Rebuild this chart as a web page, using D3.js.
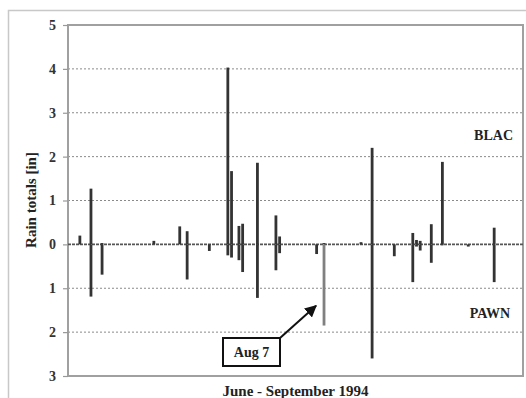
<!DOCTYPE html>
<html>
<head>
<meta charset="utf-8">
<script src="https://cdn.jsdelivr.net/npm/d3@7"></script>
<style>
  html, body { margin: 0; padding: 0; background: #fff; }
  svg { display: block; }
</style>
</head>
<body>
<script>
// ---- data ----
const dates = ["1994-06-02","1994-06-05","1994-06-08","1994-06-22","1994-06-29","1994-07-01",
  "1994-07-07","1994-07-12","1994-07-13","1994-07-15","1994-07-16","1994-07-20","1994-07-25",
  "1994-07-26","1994-08-05","1994-08-07","1994-08-17","1994-08-20","1994-08-26","1994-08-31",
  "1994-09-01","1994-09-02","1994-09-05","1994-09-08","1994-09-15","1994-09-22"];
const blac = [0.20,1.27,0.03,0.08,0.41,0.30,0.00,4.03,1.67,0.42,0.47,1.86,0.66,0.18,0.00,0.03,
  0.05,2.20,0.00,0.26,0.10,0.08,0.46,1.88,0.00,0.38];
const pawn = [0.00,1.19,0.69,0.00,0.00,0.80,0.15,0.25,0.30,0.36,0.63,1.22,0.59,0.20,0.22,1.85,
  0.00,2.60,0.27,0.86,0.05,0.14,0.42,0.02,0.05,0.86];
const yTicks = [5,4,3,2,1,0,-1,-2,-3];
const xDomain = ["1994-05-29T19:00:00","1994-09-29T19:00:00"];
const annotationDate = "1994-08-07";
const annotationLabel = "Aug 7";
const seriesLabels = ["BLAC","PAWN"];
const yTitle = "Rain totals [in]";
const xTitle = "June - September 1994";

// ---- chart ----
const FONT = "'Liberation Serif', 'Times New Roman', 'DejaVu Serif', serif";
const W = 526, H = 398;
const M = {left: 68, right: 3, top: 25, bottom: 22};
const svg = d3.select("body").append("svg").attr("width", W).attr("height", H);

function label(sel, size) {
  return sel.style("font-family", FONT).style("font-weight", "bold")
    .style("font-size", size + "px").style("fill", "#222");
}

// outer frame
svg.append("rect").attr("x", 8.5).attr("y", 10.5).attr("width", W + 10).attr("height", H + 10)
  .attr("fill", "none").attr("stroke", "#c8c8c8").attr("stroke-width", 1.5);

const x = d3.scaleTime().domain(xDomain.map(d => new Date(d))).range([M.left, W - M.right]);
const y = d3.scaleLinear().domain([-3, 5]).range([H - M.bottom, M.top]);
const parse = d => new Date(d + "T00:00:00");

// gridlines
svg.append("g").selectAll("line").data(yTicks.filter(v => v !== 0 && v !== 5 && v !== -3)).join("line")
  .attr("x1", M.left).attr("x2", W - M.right)
  .attr("y1", d => y(d)).attr("y2", d => y(d))
  .attr("stroke", "#8a8a8a").attr("stroke-width", 1).attr("stroke-dasharray", "2,2");

// plot border
svg.append("rect").attr("x", M.left).attr("y", y(5)).attr("width", W - M.right - M.left)
  .attr("height", y(-3) - y(5)).attr("fill", "none").attr("stroke", "#a0a0a0").attr("stroke-width", 2);

// y axis
const yAxis = d3.axisLeft(y).tickValues(yTicks).tickSize(5).tickFormat(d => Math.abs(d));
const ga = svg.append("g").attr("transform", `translate(${M.left},0)`).call(yAxis);
ga.select(".domain").remove();
ga.selectAll(".tick line").attr("stroke", "#999").attr("stroke-width", 1.2);
label(ga.selectAll(".tick text").attr("x", -12), 14).style("fill", "#333");

// zero line
svg.append("line").attr("x1", M.left).attr("x2", W - M.right).attr("y1", y(0)).attr("y2", y(0))
  .attr("stroke", "#555").attr("stroke-width", 1.6).attr("stroke-dasharray", "3,1");

// bars
const data = dates.map((d, i) => ({date: parse(d), key: d, b: blac[i], p: pawn[i]}));
const bw = 2.8;
svg.append("g").selectAll("rect").data(data.filter(d => d.b > 0)).join("rect")
  .attr("x", d => x(d.date) - bw / 2).attr("width", bw)
  .attr("y", d => y(d.b)).attr("height", d => y(0) - y(d.b))
  .attr("fill", "#333");
svg.append("g").selectAll("rect").data(data.filter(d => d.p > 0)).join("rect")
  .attr("x", d => x(d.date) - bw / 2).attr("width", bw)
  .attr("y", y(0)).attr("height", d => y(-d.p) - y(0))
  .attr("fill", d => d.key === annotationDate ? "#808080" : "#333");

// series labels
label(svg.append("text").attr("x", 513).attr("y", 140).attr("text-anchor", "end"), 14).text(seriesLabels[0]);
label(svg.append("text").attr("x", 510).attr("y", 318).attr("text-anchor", "end"), 14).text(seriesLabels[1]);

// axis titles
label(svg.append("text").attr("transform", `translate(36,200) rotate(-90)`).attr("text-anchor", "middle"), 15).text(yTitle);
label(svg.append("text").attr("x", (M.left + W - M.right) / 2).attr("y", 396).attr("text-anchor", "middle"), 15).text(xTitle);

// annotation
const ad = data.find(d => d.key === annotationDate);
const tipX = x(ad.date) - 8, tipY = y(-1.4);
const boxX = 223, boxY = 338, boxW = 57, boxH = 28;
svg.append("defs").append("marker").attr("id", "arr").attr("viewBox", "0 0 10 10")
  .attr("refX", 9).attr("refY", 5).attr("markerWidth", 6).attr("markerHeight", 6)
  .attr("orient", "auto").attr("markerUnits", "strokeWidth")
  .append("path").attr("d", "M0,0 L10,5 L0,10 z").attr("fill", "#111");
svg.append("line").attr("x1", boxX + boxW).attr("y1", boxY).attr("x2", tipX).attr("y2", tipY)
  .attr("stroke", "#111").attr("stroke-width", 2).attr("marker-end", "url(#arr)");
svg.append("rect").attr("x", boxX).attr("y", boxY).attr("width", boxW).attr("height", boxH)
  .attr("fill", "#fff").attr("stroke", "#111").attr("stroke-width", 2);
label(svg.append("text").attr("x", boxX + boxW / 2).attr("y", boxY + 19).attr("text-anchor", "middle"), 14).text(annotationLabel);
</script>
</body>
</html>
